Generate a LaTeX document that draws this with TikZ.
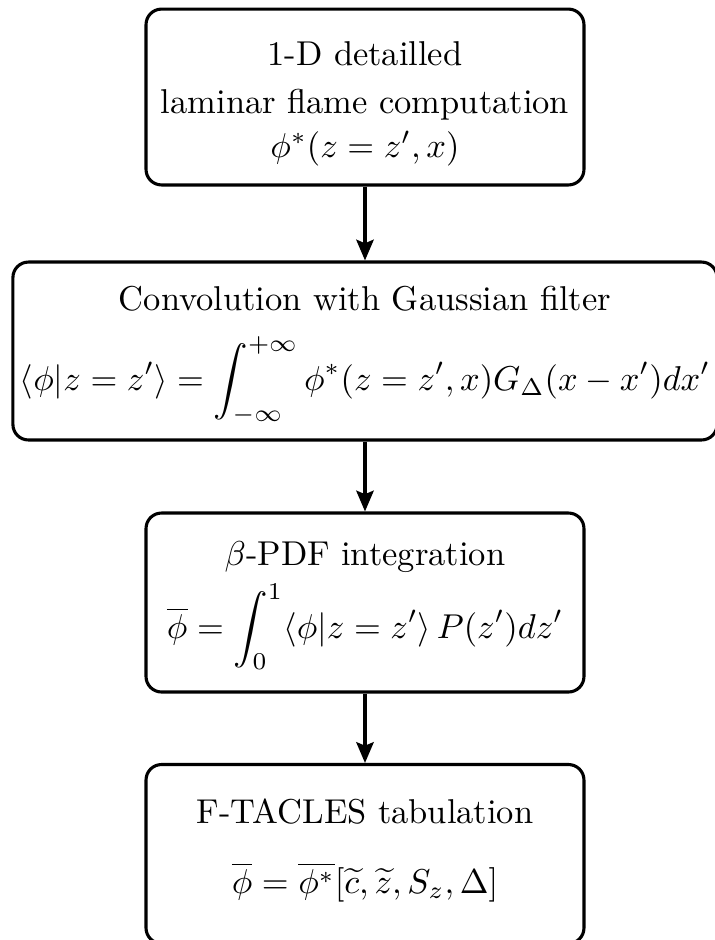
\documentclass[tikz,border=0pt]{standalone}
\usetikzlibrary{arrows.meta}
\begin{document}
\begin{tikzpicture}[x=0.29pt,y=-0.29pt,
  box/.style={draw, line width=0.9pt, rounded corners=4.5pt, inner sep=0pt},
  lbl/.style={inner sep=0pt, anchor=base},
  flow/.style={line width=1.1pt, -{Stealth[length=6pt,width=5pt,inset=1pt]}}]
\useasboundingbox (0,0) rectangle (715,940);
% boxes
\node[box, minimum width=127pt, minimum height=51pt] (b1) at (365,97) {};
\node[box, minimum width=204.2pt, minimum height=51.6pt] (b2) at (365,351) {};
\node[box, minimum width=127pt, minimum height=51.9pt] (b3) at (365,602.5) {};
\node[box, minimum width=127pt, minimum height=51.9pt] (b4) at (365,854) {};
% texts
\node[lbl] (t1a) at (365,65) {1-D detailled};
\node[lbl] (t1b) at (365,113) {laminar flame computation};
\node[lbl] (t1c) at (365,157) {$\phi^*(z=z',x)$};
\node[lbl] (t2a) at (365,310) {Convolution with Gaussian filter};
\node[lbl] (t2b) at (365,390) {$\displaystyle \langle\phi|z=z'\rangle=\int_{-\infty}^{+\infty}\phi^*(z=z',x)G_\Delta(x-x')dx'$};
\node[lbl] (t3a) at (365,565) {$\beta$-PDF integration};
\node[lbl] (t3b) at (365,638) {$\displaystyle \overline{\phi}=\int_0^1\langle\phi|z=z'\rangle\,P(z')dz'$};
\node[lbl] (t4a) at (365,823) {F-TACLES tabulation};
\node[lbl] (t4b) at (365,893) {$\overline{\phi}=\overline{\phi^*}[\widetilde{c},\widetilde{z},S_z,\Delta]$};
% arrows
\draw[flow] (b1.south) -- (b2.north);
\draw[flow] (b2.south) -- (b3.north);
\draw[flow] (b3.south) -- (b4.north);
\end{tikzpicture}
\end{document}
